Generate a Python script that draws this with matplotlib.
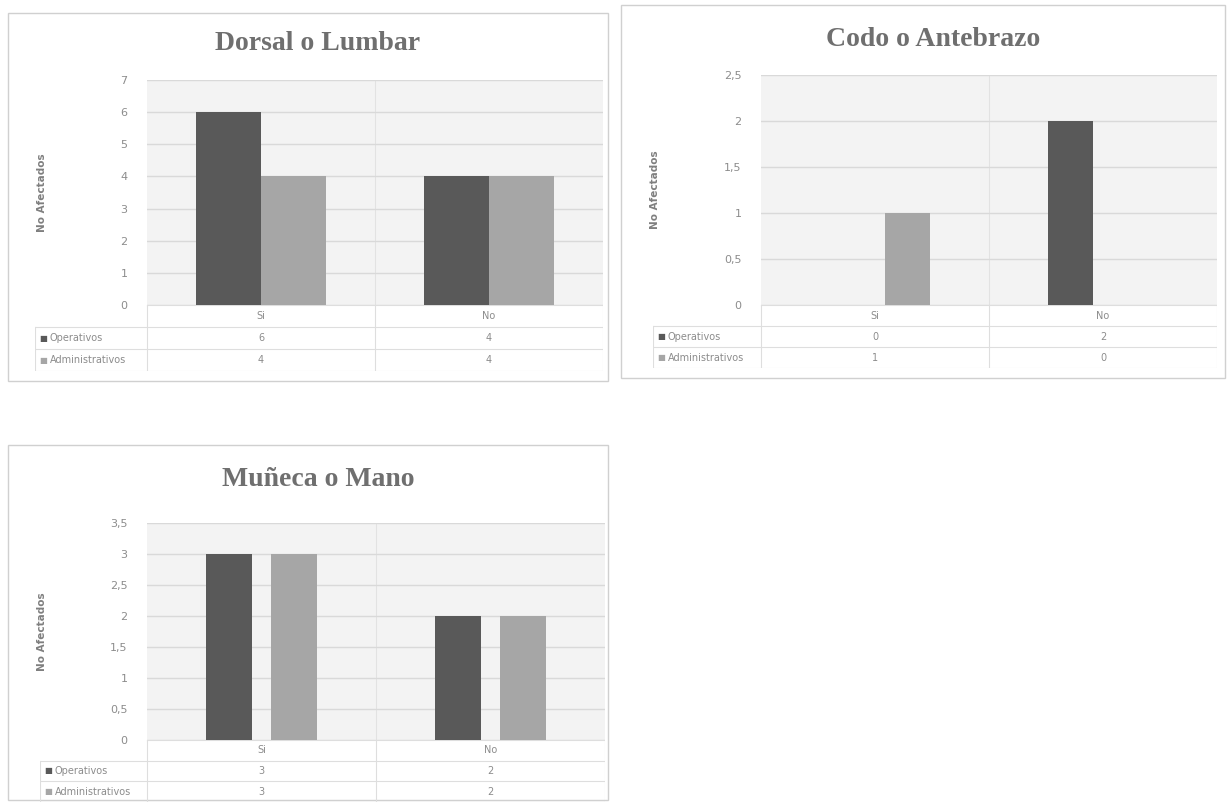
import matplotlib
matplotlib.use("Agg")
import matplotlib.pyplot as plt
from matplotlib.patches import Rectangle
from matplotlib.ticker import FuncFormatter

W, H = 1228, 810

categories = ["Si", "No"]
series_names = ["Operativos", "Administrativos"]
series_colors = ["#595959", "#a6a6a6"]

dorsal_operativos = [6, 4]
dorsal_administrativos = [4, 4]
dorsal_ticks = [0, 1, 2, 3, 4, 5, 6, 7]

codo_operativos = [0, 2]
codo_administrativos = [1, 0]
codo_ticks = [0, 0.5, 1, 1.5, 2, 2.5]

muneca_operativos = [3, 2]
muneca_administrativos = [3, 2]
muneca_ticks = [0, 0.5, 1, 1.5, 2, 2.5, 3, 3.5]

fig = plt.figure(figsize=(W / 100, H / 100), dpi=100)
fig.patch.set_facecolor("white")


def frac(x0, y0, x1, y1):
    return [x0 / W, 1 - y1 / H, (x1 - x0) / W, (y1 - y0) / H]


def fmt(v, _pos=None):
    s = f"{v:g}"
    return s.replace(".", ",")


def panel(box, title, title_y, plot, table_left, row_ys, ops, adms, ticks,
          bar_w, gap):
    bx0, by0, bx1, by1 = box
    fig.patches.append(Rectangle((bx0 / W, 1 - by1 / H), (bx1 - bx0) / W,
                                 (by1 - by0) / H, transform=fig.transFigure,
                                 facecolor="none", edgecolor="#d0d0d0",
                                 linewidth=1.0, zorder=-1))
    px0, py0, px1, py1 = plot
    ax = fig.add_axes(frac(px0, py0, px1, py1))
    ax.set_facecolor("#f3f3f3")
    ax.set_xlim(-0.5, 1.5)
    ax.set_ylim(ticks[0], ticks[-1])
    ax.set_yticks(ticks)
    ax.yaxis.set_major_formatter(FuncFormatter(fmt))
    ax.tick_params(axis="y", length=0, labelsize=8, labelcolor="#8c8c8c",
                   pad=14)
    ax.set_xticks([])
    for s in ax.spines.values():
        s.set_visible(False)
    ax.grid(axis="y", color="#d9d9d9", linewidth=1.0)
    ax.set_axisbelow(True)
    ax.axvline(0.5, color="#e2e2e2", linewidth=0.8, zorder=0)

    xs = range(len(categories))
    off = (bar_w + gap) / 2
    ax.bar([x - off for x in xs], ops, width=bar_w, color=series_colors[0],
           zorder=2)
    ax.bar([x + off for x in xs], adms, width=bar_w, color=series_colors[1],
           zorder=2)

    fig.text((42 + bx0 - 8) / W, 1 - (py0 + py1) / 2 / H, "No Afectados",
             rotation=90, ha="center", va="center", fontsize=7.5,
             fontweight="bold", color="#7f7f7f")

    fig.text((bx0 + bx1) / 2 / W + 0.008, 1 - title_y / H, title,
             ha="center", va="center", fontsize=20, fontweight="bold",
             family="Liberation Serif", color="#6f6f6f")

    # data table below the plot
    ty0 = py1
    ty1 = row_ys[-1]
    tax = fig.add_axes(frac(table_left, ty0, px1, ty1))
    per = 2.0 / (px1 - px0)
    left = -0.5 - (px0 - table_left) * per
    tax.set_xlim(left, 1.5)
    tax.set_ylim(3, 0)
    tax.axis("off")
    lc = "#dedede"
    tax.plot([-0.5, 1.5], [0, 0], color=lc, lw=0.8)
    for r in (1, 2, 3):
        tax.plot([left, 1.5], [r, r], color=lc, lw=0.8)
    tax.plot([left, left], [1, 3], color=lc, lw=0.8)
    for xb in (-0.5, 0.5, 1.5):
        tax.plot([xb, xb], [0, 3], color=lc, lw=0.8)
    for i, c in enumerate(categories):
        tax.text(i, 0.5, c, ha="center", va="center", fontsize=7,
                 color="#8c8c8c")
        tax.text(i, 1.5, str(ops[i]), ha="center", va="center", fontsize=7,
                 color="#8c8c8c")
        tax.text(i, 2.5, str(adms[i]), ha="center", va="center", fontsize=7,
                 color="#8c8c8c")
    lx = left + 0.02
    for r, (name, col) in enumerate(zip(series_names, series_colors)):
        tax.text(lx, 1.5 + r, "\u25a0", ha="left", va="center", fontsize=6,
                 color=col)
        tax.text(lx + 0.045, 1.5 + r, name, ha="left", va="center",
                 fontsize=7, color="#8c8c8c")
    return ax


panel((8, 13, 608, 381), "Dorsal o Lumbar", 43,
      (147, 80, 603, 305), 35, [305, 327, 349, 371],
      dorsal_operativos, dorsal_administrativos, dorsal_ticks,
      bar_w=0.285, gap=0.0)

panel((621, 5, 1225, 378), "Codo o Antebrazo", 40,
      (761, 75, 1217, 305), 653, [305, 325, 348, 368],
      codo_operativos, codo_administrativos, codo_ticks,
      bar_w=0.2, gap=0.085)

panel((8, 445, 608, 800), "Muñeca o Mano", 480,
      (147, 523, 605, 740), 40, [740, 760, 782, 802],
      muneca_operativos, muneca_administrativos, muneca_ticks,
      bar_w=0.2, gap=0.085)

fig.savefig("out.png", dpi=100, facecolor="white")
